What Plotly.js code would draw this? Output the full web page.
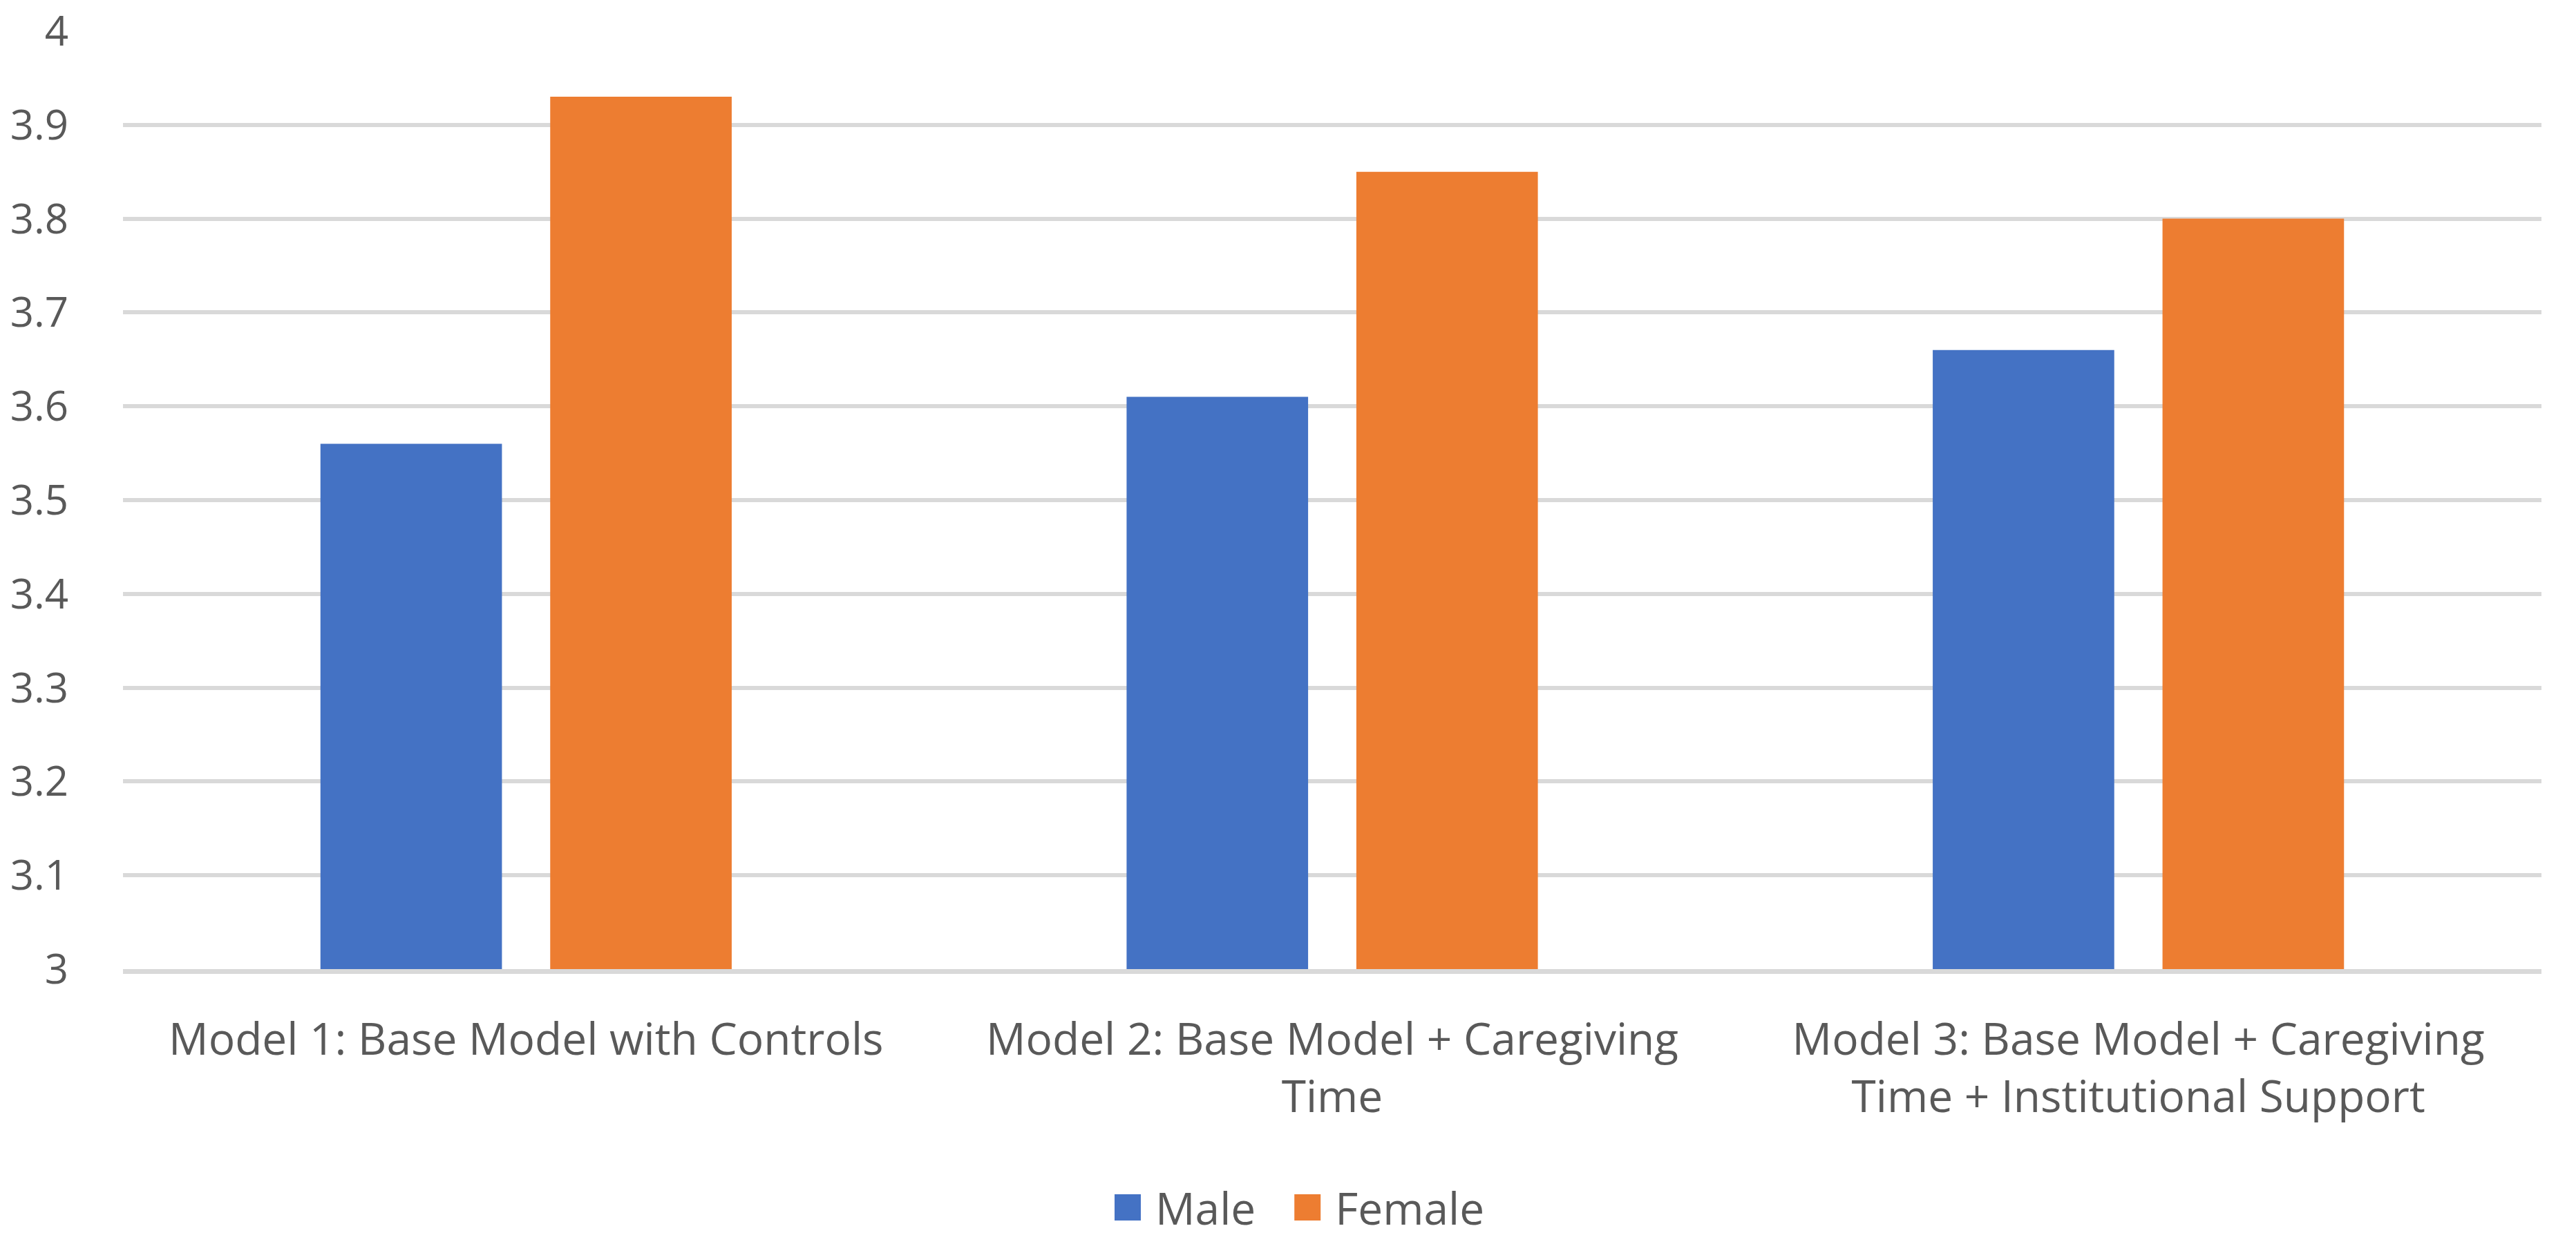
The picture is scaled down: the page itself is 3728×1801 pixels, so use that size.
<!DOCTYPE html>
<html>
<head>
<meta charset="utf-8">
<script src="https://cdn.plot.ly/plotly-3.0.1.min.js"></script>
<style>
  html, body { margin: 0; padding: 0; background: #ffffff; }
  #chart { width: 3728px; height: 1801px; }
</style>
</head>
<body>
<div id="chart"></div>
<script>
const categories = [
  "Model 1: Base Model with Controls",
  "Model 2: Base Model + Caregiving<br>Time",
  "Model 3: Base Model + Caregiving<br>Time + Institutional Support"
];
const maleValues = [3.56, 3.61, 3.66];
const femaleValues = [3.93, 3.85, 3.80];
const yTickValues = [3, 3.1, 3.2, 3.3, 3.4, 3.5, 3.6, 3.7, 3.8, 3.9, 4];
const yTickLabels = ["3", "3.1", "3.2", "3.3", "3.4", "3.5", "3.6", "3.7", "3.8", "3.9", "4"];

const FONT = "'Open Sans', 'Noto Sans', sans-serif";
const TEXT = "#595959";

const traces = [
  { type: "bar", name: "Male", x: categories, y: maleValues,
    marker: { color: "#4472C4" }, hoverinfo: "none" },
  { type: "bar", name: "Female", x: categories, y: femaleValues,
    marker: { color: "#ED7D31" }, hoverinfo: "none" }
];

const layout = {
  width: 3728, height: 1801,
  paper_bgcolor: "#ffffff", plot_bgcolor: "#ffffff",
  margin: { l: 178, r: 50, t: 45, b: 398, autoexpand: false },
  font: { family: FONT, color: TEXT, size: 64 },
  barmode: "group",
  bargap: 0.43,
  bargroupgap: 0.21,
  showlegend: true,
  legend: {
    orientation: "h", x: 0.48, xanchor: "center", y: -0.254, yanchor: "middle",
    font: { family: FONT, color: TEXT, size: 64 },
    itemwidth: 100, traceorder: "normal"
  },
  xaxis: {
    type: "category", automargin: false,
    showgrid: false, zeroline: false,
    showline: true, linecolor: "#D9D9D9", linewidth: 7,
    ticks: "", ticklabelstandoff: 40,
    tickfont: { family: FONT, color: TEXT, size: 64 }
  },
  yaxis: {
    range: [3, 4], autorange: false, automargin: false,
    tickmode: "array", tickvals: yTickValues, ticktext: yTickLabels,
    showgrid: true, gridcolor: "#D9D9D9", gridwidth: 6,
    zeroline: false, showline: false, ticks: "",
    ticklabelstandoff: 78,
    tickfont: { family: FONT, color: TEXT, size: 60 }
  }
};

function fixLegendIcons() {
  document.querySelectorAll("#chart .legend .traces").forEach(function (item) {
    var text = item.querySelector("text.legendtext");
    var path = item.querySelector(".legendpoints path");
    if (!text || !path) return;
    var tr = text.getBoundingClientRect();
    var cy = tr.top + tr.height / 2;
    var inv = path.getScreenCTM().inverse();
    var svg = path.ownerSVGElement;
    function toLocal(x, y) {
      var p = svg.createSVGPoint();
      p.x = x; p.y = y;
      return p.matrixTransform(inv);
    }
    var a = toLocal(tr.left - 59, cy - 19);
    var b = toLocal(tr.left - 21, cy + 19);
    path.setAttribute("d", "M" + a.x + "," + a.y + "H" + b.x + "V" + b.y + "H" + a.x + "Z");
  });
}

Plotly.newPlot("chart", traces, layout, { staticPlot: true, displayModeBar: false }).then(function () {
  fixLegendIcons();
});
</script>
</body>
</html>
